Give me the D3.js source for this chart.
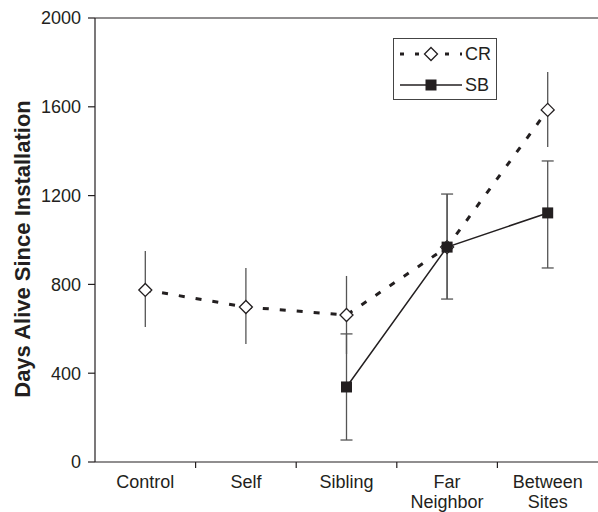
<!DOCTYPE html>
<html><head><meta charset="utf-8">
<script src="https://cdn.jsdelivr.net/npm/d3@7"></script>
<style>body{margin:0;background:#fff}svg{display:block}text{font-family:"Liberation Sans",Arial,sans-serif;fill:#231f20}</style>
</head><body><svg id="c" width="598" height="512"></svg>
<script>
const categories = [["Control"],["Self"],["Sibling"],["Far","Neighbor"],["Between","Sites"]];
const yTicks = [0,400,800,1200,1600,2000];
const crMean = [775, 698, 662, 968, 1586];
const crHi   = [950, 874, 838, 1207, 1757];
const crLo   = [608, 532, 486, 734, 1419];
const sbCats = [2,3,4];
const sbMean = [338, 968, 1122];
const sbHi   = [577, 1207, 1356];
const sbLo   = [99, 734, 874];

const svg = d3.select("#c");
const L=95, R=598, T=18, B=462;
const x = d3.scaleBand().domain(d3.range(categories.length)).range([L,R]).padding(0);
const cx = i => x(i)+x.bandwidth()/2;
const y = d3.scaleLinear().domain([0,2000]).range([B,T]);
const ink="#231f20", errC="#555";

// axes
svg.append("line").attr("x1",L).attr("x2",R).attr("y1",T).attr("y2",T).attr("stroke",ink).attr("stroke-width",1.2);
svg.append("line").attr("x1",L).attr("x2",L).attr("y1",T).attr("y2",B).attr("stroke",ink).attr("stroke-width",1.2);
svg.append("line").attr("x1",L).attr("x2",R).attr("y1",B).attr("y2",B).attr("stroke",ink).attr("stroke-width",1.2);
yTicks.forEach(t=>{
  svg.append("line").attr("x1",L-7).attr("x2",L).attr("y1",y(t)).attr("y2",y(t)).attr("stroke",ink).attr("stroke-width",1.2);
  svg.append("text").attr("x",L-14).attr("y",y(t)).attr("dy","0.36em").attr("text-anchor","end").attr("font-size",18).text(t);
});
d3.range(1,categories.length).forEach(i=>{
  const xx = x(i);
  svg.append("line").attr("x1",xx).attr("x2",xx).attr("y1",B).attr("y2",B+6).attr("stroke",ink).attr("stroke-width",1.2);
});
categories.forEach((c,i)=>{
  c.forEach((s,j)=>svg.append("text").attr("x",cx(i)).attr("y",488+j*20).attr("text-anchor","middle").attr("font-size",18).text(s));
});
svg.append("text").attr("transform",`translate(30,249) rotate(-90)`).attr("text-anchor","middle")
  .attr("font-size",22).attr("font-weight","bold")
  .text("Days Alive Since Installation");

// lines
const line = d3.line().x(d=>d[0]).y(d=>d[1]);
svg.append("path").attr("d",line(crMean.map((v,i)=>[cx(i),y(v)]))).attr("fill","none").attr("stroke",ink)
  .attr("stroke-width",3).attr("stroke-dasharray","6,11");
svg.append("path").attr("d",line(sbMean.map((v,k)=>[cx(sbCats[k]),y(v)]))).attr("fill","none").attr("stroke",ink).attr("stroke-width",1.5);

// error bars CR (no caps)
crMean.forEach((v,i)=>{
  svg.append("line").attr("x1",cx(i)).attr("x2",cx(i)).attr("y1",y(crHi[i])).attr("y2",y(crLo[i])).attr("stroke",errC).attr("stroke-width",1.3);
});
// error bars SB (caps)
sbMean.forEach((v,k)=>{
  const xx=cx(sbCats[k]);
  svg.append("line").attr("x1",xx).attr("x2",xx).attr("y1",y(sbHi[k])).attr("y2",y(sbLo[k])).attr("stroke",errC).attr("stroke-width",1.3);
  [sbHi[k],sbLo[k]].forEach(e=>svg.append("line").attr("x1",xx-6).attr("x2",xx+6).attr("y1",y(e)).attr("y2",y(e)).attr("stroke",errC).attr("stroke-width",1.3));
});

// markers
const diamond = (px,py)=>svg.append("path").attr("d",`M${px},${py-6.5}L${px+6.5},${py}L${px},${py+6.5}L${px-6.5},${py}Z`)
  .attr("fill","#fff").attr("stroke",ink).attr("stroke-width",1.3);
const square = (px,py)=>svg.append("rect").attr("x",px-5.5).attr("y",py-5.5).attr("width",11).attr("height",11).attr("fill",ink);
crMean.forEach((v,i)=>diamond(cx(i),y(v)));
sbMean.forEach((v,k)=>square(cx(sbCats[k]),y(v)));

// legend
svg.append("rect").attr("x",393.5).attr("y",38.5).attr("width",103).attr("height",61).attr("fill","#fff").attr("stroke","#444").attr("stroke-width",1);
svg.append("line").attr("x1",400).attr("x2",462).attr("y1",54).attr("y2",54).attr("stroke",ink).attr("stroke-width",3).attr("stroke-dasharray","4,11");
diamond(431,54);
svg.append("text").attr("x",465).attr("y",54).attr("dy","0.36em").attr("font-size",18).text("CR");
svg.append("line").attr("x1",400).attr("x2",462).attr("y1",85).attr("y2",85).attr("stroke",ink).attr("stroke-width",1.3);
square(431,85);
svg.append("text").attr("x",465).attr("y",85).attr("dy","0.36em").attr("font-size",18).text("SB");
</script></body></html>
